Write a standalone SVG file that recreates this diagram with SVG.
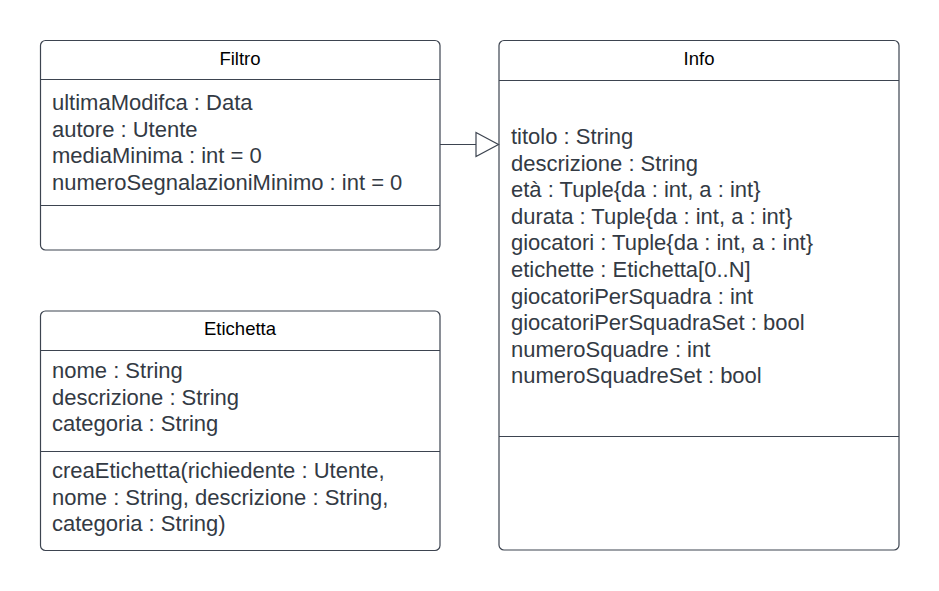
<svg xmlns="http://www.w3.org/2000/svg" width="939" height="591" viewBox="0 0 939 591">
<style>
.box{fill:#ffffff;stroke:#3d4450;stroke-width:1.2}
.div{stroke:#3d4450;stroke-width:1.2;fill:none}
.title{font-family:"Liberation Sans",Arial,sans-serif;font-size:18.5px;fill:#000000;text-anchor:middle}
.attr{font-family:"Liberation Sans",Arial,sans-serif;font-size:22px;fill:#333a44}
.conn{stroke:#3d4450;stroke-width:1.2;fill:none}
.head{stroke:#3d4450;stroke-width:1.2;fill:#ffffff}
</style>
<rect width="939" height="591" fill="#ffffff"/>
<g id="Filtro">
<rect class="box" x="40.5" y="40.5" width="399.5" height="209.5" rx="5"/>
<line class="div" x1="40.5" y1="79.5" x2="440" y2="79.5"/>
<line class="div" x1="40.5" y1="205.5" x2="440" y2="205.5"/>
<text class="title" x="240" y="64.5">Filtro</text>
<text class="attr" x="52" y="110">ultimaModifca : Data</text>
<text class="attr" x="52" y="136.6">autore : Utente</text>
<text class="attr" x="52" y="163.2">mediaMinima : int = 0</text>
<text class="attr" x="52" y="189.8">numeroSegnalazioniMinimo : int = 0</text>
</g>
<g id="Etichetta">
<rect class="box" x="40.5" y="311" width="399.5" height="239.5" rx="5"/>
<line class="div" x1="40.5" y1="350.5" x2="440" y2="350.5"/>
<line class="div" x1="40.5" y1="451.5" x2="440" y2="451.5"/>
<text class="title" x="240" y="335">Etichetta</text>
<text class="attr" x="52" y="378.3">nome : String</text>
<text class="attr" x="52" y="404.8">descrizione : String</text>
<text class="attr" x="52" y="431.3">categoria : String</text>
<text class="attr" x="52" y="478">creaEtichetta(richiedente : Utente,</text>
<text class="attr" x="52" y="504.5">nome : String, descrizione : String,</text>
<text class="attr" x="52" y="531">categoria : String)</text>
</g>
<g id="Info">
<rect class="box" x="499" y="40.5" width="400" height="509.5" rx="5"/>
<line class="div" x1="499" y1="80.5" x2="899" y2="80.5"/>
<line class="div" x1="499" y1="436.5" x2="899" y2="436.5"/>
<text class="title" x="699" y="64.5">Info</text>
<text class="attr" x="511" y="144">titolo : String</text>
<text class="attr" x="511" y="170.6">descrizione : String</text>
<text class="attr" x="511" y="197.2">età : Tuple{da : int, a : int}</text>
<text class="attr" x="511" y="223.8">durata : Tuple{da : int, a : int}</text>
<text class="attr" x="511" y="250.4">giocatori : Tuple{da : int, a : int}</text>
<text class="attr" x="511" y="277">etichette : Etichetta[0..N]</text>
<text class="attr" x="511" y="303.6">giocatoriPerSquadra : int</text>
<text class="attr" x="511" y="330.2">giocatoriPerSquadraSet : bool</text>
<text class="attr" x="511" y="356.8">numeroSquadre : int</text>
<text class="attr" x="511" y="383.4">numeroSquadreSet : bool</text>
</g>
<g id="connectors">
<line class="conn" x1="440" y1="144.5" x2="476" y2="144.5"/>
<polygon class="head" points="476,132.5 498.5,144.5 476,156.5"/>
</g>
</svg>
